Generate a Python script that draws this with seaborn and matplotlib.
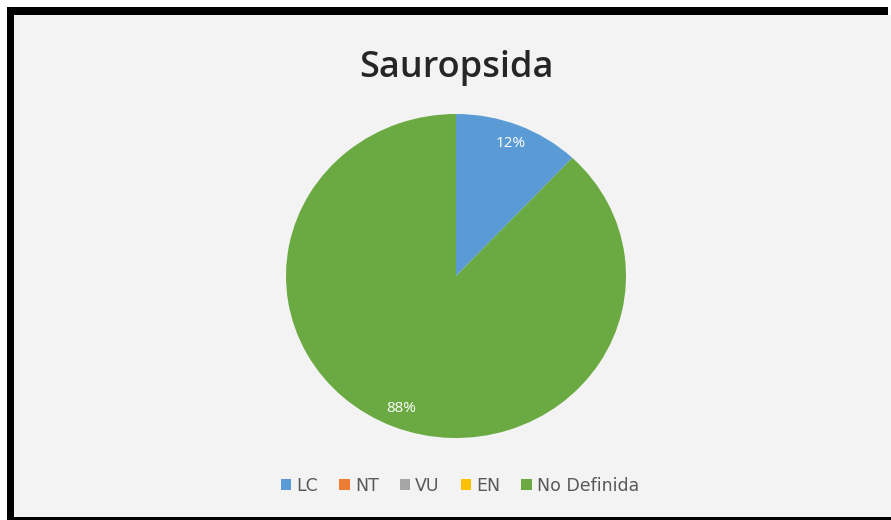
import matplotlib
matplotlib.use("Agg")
import matplotlib.pyplot as plt
from matplotlib.patches import Rectangle
import seaborn as sns

# Conservation status shares for Sauropsida
categories = ["LC", "NT", "VU", "EN", "No Definida"]
values = [12, 0, 0, 0, 88]
title = "Sauropsida"

sns.set_theme(style="white")
plt.rcParams["font.family"] = ["Open Sans", "DejaVu Sans"]

colors = ["#5B9BD5", "#ED7D31", "#A5A5A5", "#FFC000", "#6BAA42"]

W, H = 891, 520
fig = plt.figure(figsize=(W / 100, H / 100), dpi=100)
# the figure background shows through as the black frame
fig.patch.set_facecolor("black")


def band(x0, y0, w, h, color, z=-5):
    # x0, y0 measured from the top-left corner in pixels
    fig.patches.append(Rectangle((x0 / W, 1 - (y0 + h) / H), w / W, h / H,
                                 transform=fig.transFigure, color=color, lw=0,
                                 zorder=z))


band(14, 15, W, H - 18, "#F3F3F3")   # chart area
band(0, 0, W, 7, "white")            # outer margin, top
band(0, 0, 7, H, "white")            # outer margin, left
band(888, 7, 10, 8, "white")         # end of the top frame bar
band(870, 15, 30, H - 18, "#F3F3F3", z=10)  # open right side of the chart area

# pie axes (slightly wider than tall)
cx, cy, rx, ry = 456, 276, 170, 162
ax = fig.add_axes([(cx - rx) / W, (H - cy - ry) / H, 2 * rx / W, 2 * ry / H])
ax.set_facecolor("none")


def pct_label(p):
    return f"{p:.0f}%" if p > 0.5 else ""


wedges, _, autotexts = ax.pie(
    values,
    colors=colors,
    startangle=90,
    counterclock=False,
    autopct=pct_label,
    pctdistance=0.88,
    wedgeprops=dict(linewidth=0),
    textprops=dict(color="white", fontsize=11),
)
ax.set_xlim(-1, 1)
ax.set_ylim(-1, 1)
ax.set_aspect("auto")
ax.set_axis_off()

fig.text(cx / W, 1 - 68 / H, title, ha="center", va="center",
         fontsize=26, fontweight="semibold", color="#262626")

fig.legend(wedges, categories, loc="center", bbox_to_anchor=(460 / W, 1 - 486 / H),
           ncol=5, frameon=False, handlelength=0.6, handleheight=0.6,
           handletextpad=0.3, columnspacing=1.2, labelcolor="#595959",
           prop=dict(family="DejaVu Sans", size=12.5))

fig.savefig("out.png", dpi=100, facecolor=fig.get_facecolor())
